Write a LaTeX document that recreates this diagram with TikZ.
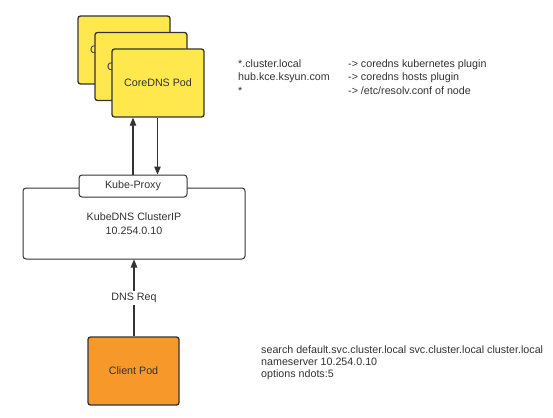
\documentclass[tikz,border=0pt]{standalone}
\usepackage{fontspec}
\setmainfont{Liberation Sans}
\usetikzlibrary{arrows.meta}
\definecolor{podyellow}{HTML}{FFE84D}
\definecolor{podorange}{HTML}{F7982B}
\definecolor{edge}{HTML}{333333}
\begin{document}
\begin{tikzpicture}[x=1pt,y=-1pt,
  every node/.style={font=\fontsize{10.7}{13.3}\selectfont, text=edge},
  pod/.style={draw=edge, line width=1.3pt, rounded corners=2.5pt, minimum width=92pt, minimum height=68pt, inner sep=0pt},
  plainbox/.style={draw=edge, line width=1pt, rounded corners=3pt, fill=white, inner sep=0pt},
  conn/.style={draw=edge, line width=1.1pt, -{Triangle[length=8pt,width=6.5pt]}},
  note/.style={anchor=north west, inner sep=0pt, align=left}]
\useasboundingbox (0,0) rectangle (553,417);
\fill[white] (0,0) rectangle (553,417);
% CoreDNS pods
\node[pod, fill=podyellow] (core1) at (124,50) {CoreDNS Pod};
\node[pod, fill=podyellow] (core2) at (141,66.5) {CoreDNS Pod};
\node[pod, fill=podyellow] (core3) at (158,83) {CoreDNS Pod};
% KubeDNS
\node[plainbox, minimum width=222pt, minimum height=71pt] (kdns) at (134,223.5) {};
\node[align=center, font=\fontsize{10.7}{14}\selectfont] (kdnstext) at (134,224) {KubeDNS ClusterIP\\10.254.0.10};
\node[plainbox, minimum width=108pt, minimum height=22pt] (proxy) at (133,186) {Kube-Proxy};
% Client
\node[pod, fill=podorange, minimum width=91pt] (client) at (133.5,371) {Client Pod};
% connectors
\draw[conn] (proxy.north -| 133,0) -- (core3.south -| 133,0);
\draw[conn] (core3.south -| 157.5,0) -- (proxy.north -| 157.5,0);
\draw[conn] (client.north -| 134,0) -- node[fill=white, inner sep=2pt, pos=0.5] (req) {DNS Req} (kdns.south -| 134,0);
% notes
\node[note] (rules) at (238,58) {\begin{tabular}{@{}p{110pt}@{}l@{}}
*.cluster.local & -> coredns kubernetes plugin\\
hub.kce.ksyun.com & -> coredns hosts plugin\\
{*} & -> /etc/resolv.conf of node
\end{tabular}};
\node[note, font=\fontsize{10.7}{11.7}\selectfont] (resolv) at (261,346) {search default.svc.cluster.local svc.cluster.local cluster.local\\
nameserver 10.254.0.10\\
options ndots:5};
\end{tikzpicture}
\end{document}
